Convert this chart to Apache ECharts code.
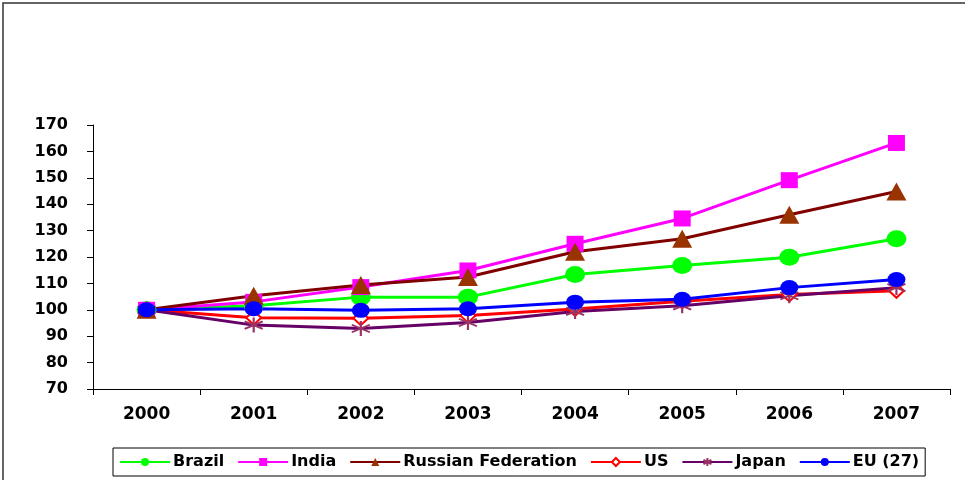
<!DOCTYPE html>
<html>
<head>
<meta charset="utf-8">
<script src="https://cdn.jsdelivr.net/npm/echarts@6/dist/echarts.min.js"></script>
<style>html,body{margin:0;padding:0;background:#fff}#c{width:965px;height:480px}</style>
</head>
<body>
<div id="c"></div>
<script>
const years = ['2000','2001','2002','2003','2004','2005','2006','2007'];
const brazil = [100, 101.5, 104.8, 104.8, 113.4, 116.8, 119.9, 126.9];
const india  = [100, 103, 108.6, 114.9, 125, 134.6, 149.1, 163.2];
const russia = [100, 105.3, 109.4, 112.4, 122, 126.9, 136, 144.8];
const us     = [100, 97, 96.8, 97.8, 100.3, 103.2, 105.8, 107.2];
const japan  = [100, 94.2, 92.9, 95.2, 99.4, 101.5, 105.3, 108.4];
const eu     = [100, 100.4, 99.8, 100.4, 102.9, 104, 108.4, 111.5];
const seriesNames = ['Brazil','India','Russian Federation','US','Japan','EU (27)'];

const FONT = 'DejaVu Sans';
const asterisk = 'path://M10,0 L10,20 M1.3,5 L18.7,15 M1.3,15 L18.7,5';

function mk(name, data, lineColor, symbol, size, fill, stroke, bw) {
  return {
    name: name, type: 'line', data: data,
    symbol: symbol, symbolSize: size,
    lineStyle: { color: lineColor, width: 3 },
    itemStyle: { color: fill, borderColor: stroke, borderWidth: bw },
    emphasis: { disabled: true },
    animation: false
  };
}

const chart = echarts.init(document.getElementById('c'), null, { renderer: 'canvas' });
chart.setOption({
  backgroundColor: '#fff',
  animation: false,
  grid: { left: 93, right: 15, top: 125, bottom: 91 },
  graphic: [{
    type: 'rect', silent: true,
    shape: { x: 3, y: 3, width: 1100, height: 1100 },
    style: { fill: 'none', stroke: '#333', lineWidth: 1.5 }
  }],
  legend: {
    left: 113, top: 448,
    data: seriesNames,
    itemWidth: 50, itemHeight: 10, itemGap: 13,
    borderColor: '#000', borderWidth: 1, borderRadius: 0,
    padding: [6, 6, 6, 6],
    textStyle: { fontFamily: FONT, fontWeight: 'bold', fontSize: 16, color: '#000', padding: [0, 0, 0, -2] }
  },
  xAxis: {
    type: 'category', data: years, boundaryGap: true,
    axisLine: { lineStyle: { color: '#000', width: 1 } },
    axisTick: { show: true, length: 6, lineStyle: { color: '#000' } },
    axisLabel: { fontFamily: FONT, fontWeight: 'bold', fontSize: 17, color: '#000', margin: 17 },
    splitLine: { show: false }
  },
  yAxis: {
    type: 'value', min: 70, max: 170, interval: 10,
    axisLine: { show: true, lineStyle: { color: '#000', width: 1 } },
    axisTick: { show: true, length: 6, lineStyle: { color: '#000' } },
    axisLabel: { fontFamily: FONT, fontWeight: 'bold', fontSize: 16, color: '#000', margin: 25 },
    splitLine: { show: false }
  },
  series: [
    mk('Brazil', brazil, '#00FF00', 'circle', [20, 17], '#00FF00', '#00FF00', 0),
    mk('India', india, '#FF00FF', 'rect', [17, 16], '#FF00FF', '#FF00FF', 0),
    mk('Russian Federation', russia, '#800000', 'triangle', [20, 18], '#993300', '#993300', 0),
    mk('US', us, '#FF0000', 'diamond', [15, 14], '#ffffff', '#FF0000', 2),
    mk('Japan', japan, '#660066', asterisk, [18, 15], 'none', '#993366', 2),
    mk('EU (27)', eu, '#0000FF', 'circle', [18, 15], '#0000FF', '#0000FF', 0)
  ]
});
</script>
</body>
</html>
